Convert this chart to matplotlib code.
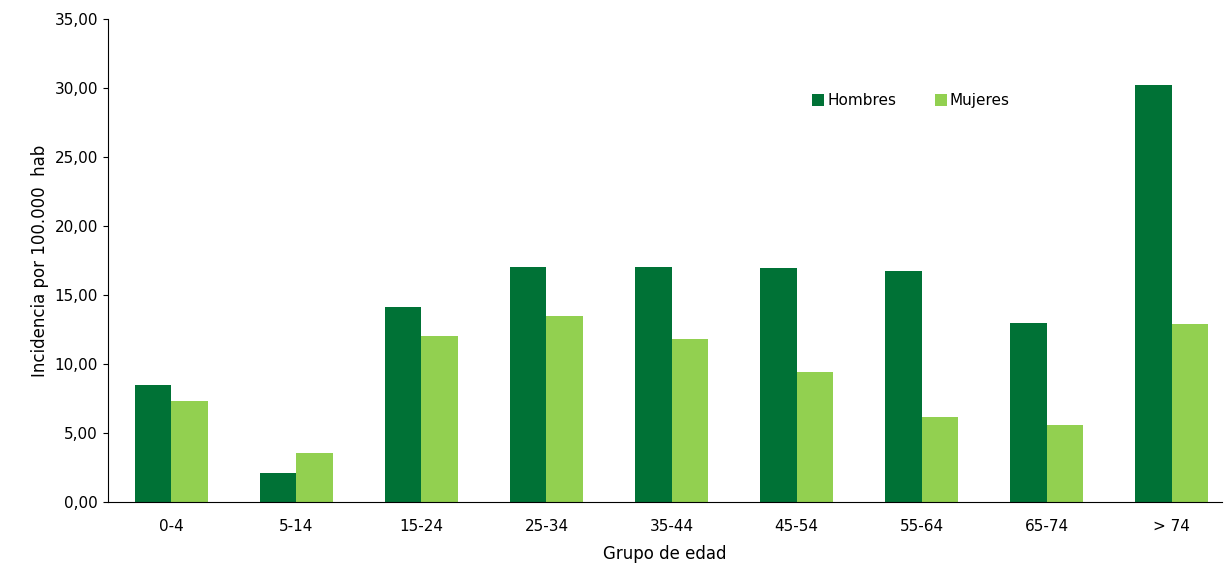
import matplotlib.pyplot as plt
import numpy as np

grupos = ["0-4", "5-14", "15-24", "25-34", "35-44", "45-54", "55-64", "65-74", "> 74"]
hombres = [8.48, 2.10, 14.13, 17.03, 17.03, 16.96, 16.74, 12.97, 30.20]
mujeres = [7.32, 3.55, 12.03, 13.48, 11.81, 9.42, 6.16, 5.58, 12.90]

fig = plt.figure(figsize=(12.24, 5.68), dpi=100)
ax = fig.add_axes([0.088, 0.116, 0.91, 0.851])

x = np.arange(len(grupos))
w = 0.29
ax.bar(x - w / 2, hombres, w, color="#007236", label="Hombres")
ax.bar(x + w / 2, mujeres, w, color="#92D050", label="Mujeres")

ax.set_xlim(-0.51, len(grupos) - 0.6)
ax.set_ylim(0, 35)
ax.set_yticks(np.arange(0, 36, 5))
ax.set_yticklabels([f"{v:.2f}".replace(".", ",") for v in np.arange(0, 36, 5)])
ax.set_xticks(x)
ax.set_xticklabels(grupos)
ax.tick_params(axis="x", length=0, pad=12, labelsize=11)
ax.tick_params(axis="y", labelsize=11)
ax.spines["top"].set_visible(False)
ax.spines["right"].set_visible(False)
ax.set_xlabel("Grupo de edad", fontsize=12, labelpad=8)
ax.set_ylabel("Incidencia por 100.000  hab", fontsize=12, labelpad=4)
ax.legend(loc="center left", bbox_to_anchor=(0.62, 0.83), ncol=2, frameon=False,
          fontsize=11, handlelength=0.8, handleheight=0.8, handletextpad=0.2,
          columnspacing=2.5)

fig.savefig("out.png")
